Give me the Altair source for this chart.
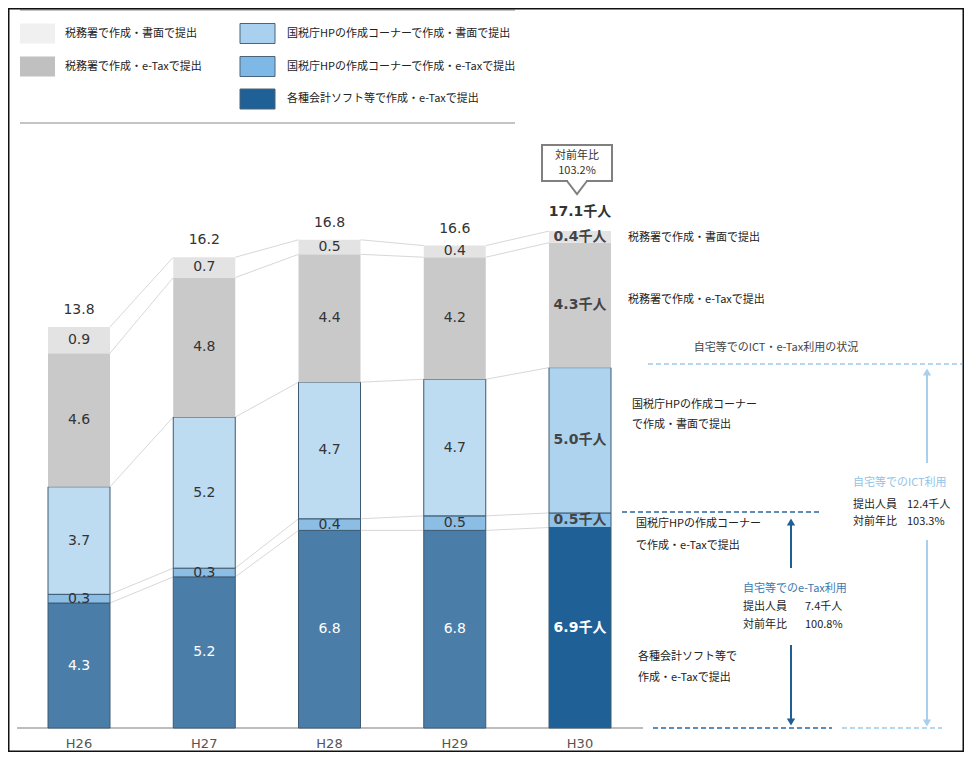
import altair as alt
import pandas as pd

# ---------------- data ----------------
years = ["H26", "H27", "H28", "H29", "H30"]
series = [
    "各種会計ソフト等で作成・e-Taxで提出",
    "国税庁HPの作成コーナーで作成・e-Taxで提出",
    "国税庁HPの作成コーナーで作成・書面で提出",
    "税務署で作成・e-Taxで提出",
    "税務署で作成・書面で提出",
]
software_etax = [4.3, 5.2, 6.8, 6.8, 6.9]
hp_etax = [0.3, 0.3, 0.4, 0.5, 0.5]
hp_paper = [3.7, 5.2, 4.7, 4.7, 5.0]
office_etax = [4.6, 4.8, 4.4, 4.2, 4.3]
office_paper = [0.9, 0.7, 0.5, 0.4, 0.4]
totals = [13.8, 16.2, 16.8, 16.6, 17.1]
total_yoy = "103.2%"
ict_people = "12.4千人"
ict_yoy = "103.3%"
etax_people = "7.4千人"
etax_yoy = "100.8%"
unit = "千人"

values = [software_etax, hp_etax, hp_paper, office_etax, office_paper]

# ---------------- styling ----------------
colors_past = ["#4A7EA9", "#8CBDE4", "#BDDBF1", "#C9C9C9", "#E3E3E3"]
colors_last = ["#1F6096", "#8CC2EA", "#AED3EF", "#CBCBCB", "#E3E3E3"]
legend_colors = ["#1F6196", "#7DB8E6", "#A9D0EE", "#C0C0C0", "#F0F0F0"]
JP = "Noto Sans CJK JP"
NUM = "DejaVu Sans, Noto Sans CJK JP"

W, H, PAD_B = 956, 720, 24
PXU = 29.06                  # pixels per 1 (千人)
STEP = 125.25                # pixels between bar centres
X0 = 71                      # chart px of first bar centre
HALF = 31 / STEP
XS = alt.Scale(domain=[-X0 / STEP, (W - X0) / STEP], nice=False, zero=False)
YS = alt.Scale(domain=[0, H / PXU], nice=False, zero=False)


def X(px):  # page px -> x data
    return (px - 8 - X0) / STEP


def Y(py):  # page px -> y data
    return (728 - py) / PXU


def rules(rows, **kw):
    df = pd.DataFrame(rows, columns=["x", "x2", "y", "y2"])
    return alt.Chart(df).mark_rule(**kw).encode(
        x=alt.X("x:Q", scale=XS, axis=None), x2="x2:Q",
        y=alt.Y("y:Q", scale=YS, axis=None), y2="y2:Q")


def rects(rows, **kw):
    df = pd.DataFrame(rows, columns=["x", "x2", "y", "y2"])
    return alt.Chart(df).mark_rect(**kw).encode(
        x=alt.X("x:Q", scale=XS, axis=None), x2="x2:Q",
        y=alt.Y("y:Q", scale=YS, axis=None), y2="y2:Q")


def texts(rows, **kw):
    df = pd.DataFrame(rows, columns=["x", "y", "t"])
    base = dict(baseline="middle", font=JP, fontSize=11, color="#222")
    base.update(kw)
    return alt.Chart(df).mark_text(**base).encode(
        x=alt.X("x:Q", scale=XS, axis=None),
        y=alt.Y("y:Q", scale=YS, axis=None), text="t:N")


def points(rows, **kw):
    df = pd.DataFrame(rows, columns=["x", "y"])
    return alt.Chart(df).mark_point(**kw).encode(
        x=alt.X("x:Q", scale=XS, axis=None),
        y=alt.Y("y:Q", scale=YS, axis=None))


# ---------------- bar table ----------------
rows = []
cum_tops = [[0.0] * len(years) for _ in series]
for i, yr in enumerate(years):
    base = 0.0
    last = i == len(years) - 1
    for k, s in enumerate(series):
        v = values[k][i]
        top = round(base + v, 2)
        cum_tops[k][i] = top
        rows.append(dict(
            year=yr, i=i, k=k, x0=i - HALF, x1=i + HALF, y0=base, y1=top,
            ym=(base + top) / 2, xc=i,
            key=f"{k}-{'L' if last else 'P'}",
            label=f"{v:.1f}{unit}" if last else f"{v:.1f}", last=last))
        base = top
bars = pd.DataFrame(rows)
keys = [f"{k}-P" for k in range(5)] + [f"{k}-L" for k in range(5)]
rng = colors_past + colors_last

bar_layer = alt.Chart(bars).mark_bar(stroke="#3d5a70").encode(
    x=alt.X("x0:Q", scale=XS, axis=None), x2="x1:Q",
    y=alt.Y("y0:Q", scale=YS, axis=None), y2="y1:Q",
    color=alt.Color("key:N", scale=alt.Scale(domain=keys, range=rng), legend=None),
    strokeWidth=alt.condition("datum.k <= 2", alt.value(1), alt.value(0)),
)

lab_past = alt.Chart(bars[~bars["last"]]).mark_text(
    font=NUM, fontSize=14, baseline="middle").encode(
    x=alt.X("xc:Q", scale=XS, axis=None), y=alt.Y("ym:Q", scale=YS, axis=None),
    text="label:N",
    color=alt.condition("datum.k == 0", alt.value("white"), alt.value("#333")))
lab_last = alt.Chart(bars[bars["last"]]).mark_text(
    font=NUM, fontSize=14, fontWeight="bold", baseline="middle").encode(
    x=alt.X("xc:Q", scale=XS, axis=None), y=alt.Y("ym:Q", scale=YS, axis=None),
    text="label:N",
    color=alt.condition("datum.k == 0", alt.value("white"), alt.value("#444")))

tot = pd.DataFrame(dict(i=list(range(len(years))), t=totals,
                        lab=[f"{v:.1f}" for v in totals[:-1]] + [f"{totals[-1]:.1f}{unit}"]))
tot_past = alt.Chart(tot[tot.i < 4]).mark_text(
    font=NUM, fontSize=14, dy=-17, baseline="middle", color="#333").encode(
    x=alt.X("i:Q", scale=XS, axis=None), y=alt.Y("t:Q", scale=YS, axis=None), text="lab:N")
tot_last = alt.Chart(tot[tot.i == 4]).mark_text(
    font=NUM, fontSize=14, fontWeight="bold", dy=-19, baseline="middle", color="#333").encode(
    x=alt.X("i:Q", scale=XS, axis=None), y=alt.Y("t:Q", scale=YS, axis=None), text="lab:N")

# connectors between bars
conn = []
for k in range(len(series)):
    for i in range(len(years) - 1):
        conn.append((i + HALF, i + 1 - HALF, cum_tops[k][i], cum_tops[k][i + 1]))
conn_layer = rules(conn, color="#cdcdcd", strokeWidth=0.8)

# year labels + baseline
yr_df = pd.DataFrame(dict(i=list(range(len(years))), y=[0] * len(years), t=years))
yr_layer = alt.Chart(yr_df).mark_text(font="DejaVu Sans", fontSize=13, dy=16,
                                      baseline="middle", color="#555").encode(
    x=alt.X("i:Q", scale=XS, axis=None), y=alt.Y("y:Q", scale=YS, axis=None), text="t:N")
baseline = rules([(X(17), X(643), 0, 0)], color="#bdbdbd", strokeWidth=2)

# ---------------- legend ----------------
leg_lines = rules([(X(20), X(515), Y(10), Y(10)), (X(20), X(515), Y(123), Y(123))],
                  color="#c4c4c4", strokeWidth=2)
col_x = [(20, 55, 65), (240, 275, 287)]
row_y = [33.5, 66.5, 99]
leg_pos = {4: (0, 0), 3: (0, 1), 2: (1, 0), 1: (1, 1), 0: (1, 2)}
leg_rows, leg_txt = [], []
for k, (c, r) in leg_pos.items():
    x0, x1, tx = col_x[c]
    cy = row_y[r]
    leg_rows.append(dict(x=X(x0), x2=X(x1), y=Y(cy - 10), y2=Y(cy + 10),
                         k=k, col=legend_colors[k]))
    leg_txt.append((X(tx), Y(cy), series[k]))
leg_df = pd.DataFrame(leg_rows)
leg_sw = alt.Chart(leg_df).mark_rect(stroke="#4a6579").encode(
    x=alt.X("x:Q", scale=XS, axis=None), x2="x2:Q",
    y=alt.Y("y:Q", scale=YS, axis=None), y2="y2:Q",
    fill=alt.Fill("col:N", scale=None),
    strokeWidth=alt.condition("datum.k <= 2", alt.value(1), alt.value(0)))
leg_tx = texts(leg_txt, align="left")

# ---------------- callout ----------------
box = rects([(X(542), X(612), Y(145), Y(181))], fill="white", stroke="#808080", strokeWidth=2)
box_cover = rules([(X(568), X(586), Y(181), Y(181))], color="white", strokeWidth=3)
v_df = pd.DataFrame(dict(x=[X(567), X(577), X(587)], y=[Y(181), Y(194), Y(181)]))
box_v = alt.Chart(v_df).mark_line(color="#808080", strokeWidth=2).encode(
    x=alt.X("x:Q", scale=XS, axis=None), y=alt.Y("y:Q", scale=YS, axis=None))
box_txt = texts([(X(577), Y(156), "対前年比"), (X(577), Y(171), total_yoy)],
                align="center", color="#333")

# ---------------- right-side labels ----------------
side = texts([
    (X(628), Y(238), series[4]),
    (X(628), Y(300), series[3]),
    (X(632), Y(405), "国税庁HPの作成コーナー"),
    (X(632), Y(425), "で作成・書面で提出"),
    (X(636), Y(524), "国税庁HPの作成コーナー"),
    (X(636), Y(546), "で作成・e-Taxで提出"),
    (X(638), Y(657), "各種会計ソフト等で"),
    (X(638), Y(678), "作成・e-Taxで提出"),
], align="left")

title_txt = texts([(X(776), Y(348), "自宅等でのICT・e-Tax利用の状況")],
                  align="center", color="#444")

LB = "#9fcbe9"
DB = "#2a679c"
dashes = [
    rules([(X(648), X(962), Y(364), Y(364))], color=LB, strokeWidth=1.5, strokeDash=[5, 3]),
    rules([(X(842), X(942), Y(728), Y(728))], color=LB, strokeWidth=1.5, strokeDash=[5, 3]),
    rules([(X(622), X(820), Y(512), Y(512))], color=DB, strokeWidth=1.5, strokeDash=[5, 3]),
    rules([(X(653), X(832), Y(728), Y(728))], color=DB, strokeWidth=1.5, strokeDash=[5, 3]),
]
arrows = [
    rules([(X(927), X(927), Y(374), Y(463)), (X(927), X(927), Y(540), Y(720))],
          color="#a8d0ec", strokeWidth=2),
    points([(X(927), Y(372))], shape="triangle-up", filled=True, size=70, color="#a8d0ec", opacity=1),
    points([(X(927), Y(723))], shape="triangle-down", filled=True, size=70, color="#a8d0ec", opacity=1),
    rules([(X(791), X(791), Y(524), Y(568)), (X(791), X(791), Y(645), Y(720))],
          color="#1f5f94", strokeWidth=2),
    points([(X(791), Y(522))], shape="triangle-up", filled=True, size=70, color="#1f5f94", opacity=1),
    points([(X(791), Y(722))], shape="triangle-down", filled=True, size=70, color="#1f5f94", opacity=1),
]
ict_txt = texts([(X(853), Y(483), "自宅等でのICT利用")], align="left", color="#93c3e6")
etax_txt = texts([(X(743), Y(589), "自宅等でのe-Tax利用")], align="left", color="#3b78b0")
stat_txt = texts([
    (X(853), Y(505), "提出人員"), (X(907), Y(505), ict_people),
    (X(853), Y(522), "対前年比"), (X(907), Y(522), ict_yoy),
    (X(743), Y(607), "提出人員"), (X(805), Y(607), etax_people),
    (X(743), Y(625), "対前年比"), (X(805), Y(625), etax_yoy),
], align="left")

border = rects([(X(8.75), X(963.25), Y(8.75), Y(751.25))],
               fillOpacity=0, stroke="#111", strokeWidth=1.5)

chart = alt.layer(
    baseline, conn_layer, bar_layer, lab_past, lab_last, tot_past, tot_last, yr_layer,
    leg_lines, leg_sw, leg_tx, box, box_cover, box_v, box_txt, side, title_txt,
    *dashes, *arrows, ict_txt, etax_txt, stat_txt, border,
).properties(
    width=W, height=H,
    autosize=alt.AutoSizeParams(type="none"),
    padding={"left": 0, "top": 0, "right": 0, "bottom": PAD_B},
    background="white",
).configure_view(strokeWidth=0)

chart.save("out.html", embed_options={"renderer": "svg", "actions": False})
